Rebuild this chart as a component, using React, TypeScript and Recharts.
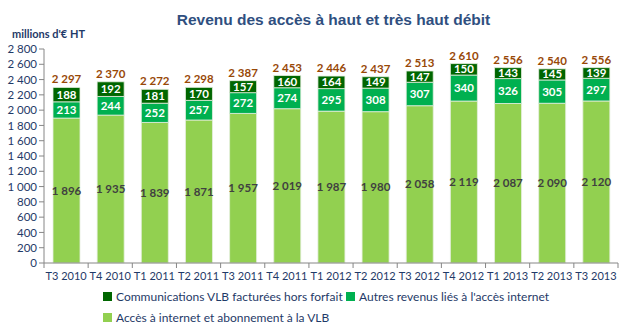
import React from 'react';
import { BarChart, Bar, XAxis, YAxis, LabelList } from 'recharts';

const quarters = ['T3 2010', 'T4 2010', 'T1 2011', 'T2 2011', 'T3 2011', 'T4 2011', 'T1 2012', 'T2 2012', 'T3 2012', 'T4 2012', 'T1 2013', 'T2 2013', 'T3 2013'];
const acces = [1896, 1935, 1839, 1871, 1957, 2019, 1987, 1980, 2058, 2119, 2087, 2090, 2120];
const autres = [213, 244, 252, 257, 272, 274, 295, 308, 307, 340, 326, 305, 297];
const communications = [188, 192, 181, 170, 157, 160, 164, 149, 147, 150, 143, 145, 139];
const totals = [2297, 2370, 2272, 2298, 2387, 2453, 2446, 2437, 2513, 2610, 2556, 2540, 2556];
const yTicks = [0, 200, 400, 600, 800, 1000, 1200, 1400, 1600, 1800, 2000, 2200, 2400, 2600, 2800];

const series = [
  { key: 'acces', name: 'Accès à internet et abonnement à la VLB', color: '#92D050', label: '#404040' },
  { key: 'autres', name: "Autres revenus liés à l'accès internet", color: '#00B050', label: '#ffffff' },
  { key: 'comm', name: 'Communications VLB facturées hors forfait', color: '#006600', label: '#ffffff' },
];

const data = quarters.map((q, i) => ({
  q,
  acces: acces[i],
  autres: autres[i],
  comm: communications[i],
  total: totals[i],
}));

const fmt = (v: number) => String(v).replace(/\B(?=(\d{3})+(?!\d))/g, ' ');

const FONT = 'Lato, sans-serif';
const TEXT = '#1F3A68';

const XTick = (props: any) => {
  const { x, y, payload, index, visibleTicksCount } = props;
  const n = visibleTicksCount || 13;
  const half = 574 / n / 2;
  const top = y - 8;
  return (
    <g>
      <line x1={x - half} x2={x - half} y1={top} y2={top + 5} stroke="#868686" />
      {index === n - 1 && <line x1={x + half} x2={x + half} y1={top} y2={top + 5} stroke="#868686" />}
      <text x={x} y={y + 9} textAnchor="middle" fill={TEXT} fontSize={11} fontFamily={FONT}>
        {payload.value}
      </text>
    </g>
  );
};

const makeSegLabel = (color: string) => (props: any) => {
  const { x, y, width, height, value } = props;
  return (
    <text x={x + width / 2} y={y + height / 2 + 4} textAnchor="middle" fill={color} fontSize={11.5} fontWeight="bold" fontFamily={FONT}>
      {fmt(value)}
    </text>
  );
};

const TotalLabel = (props: any) => {
  const { x, y, width, value } = props;
  return (
    <text x={x + width / 2} y={y - 4} textAnchor="middle" fill="#984807" fontSize={11.5} fontWeight="bold" fontFamily={FONT}>
      {fmt(value)}
    </text>
  );
};

const legendItems = [
  { s: series[2], left: 103, top: 287 },
  { s: series[1], left: 346, top: 287 },
  { s: series[0], left: 103, top: 308 },
];

export default function App() {
  return (
    <div style={{ position: 'relative', width: 627, height: 326, background: '#fff', fontFamily: FONT, overflow: 'hidden' }}>
      <style>{'body{margin:0}'}</style>
      <div style={{ position: 'absolute', top: 11, left: 0, width: 627, textAlign: 'center', paddingLeft: 40, boxSizing: 'border-box', fontFamily: '"Liberation Sans", Arial, sans-serif', fontWeight: 'bold', fontSize: 15.5, color: '#2F4F7F' }}>
        Revenu des accès à haut et très haut débit
      </div>
      <div style={{ position: 'absolute', top: 27, left: 12, fontWeight: 'bold', fontSize: 11, color: TEXT }}>
        millions d'€ HT
      </div>
      <BarChart width={627} height={326} data={data} margin={{ top: 49, right: 9, left: 0, bottom: 43 }} barSize={27}>
        <XAxis dataKey="q" height={20} axisLine={{ stroke: '#868686' }} tickLine={false} interval={0} tick={<XTick />} />
        <YAxis
          width={44}
          domain={[0, 2800]}
          ticks={yTicks}
          interval={0}
          axisLine={{ stroke: '#868686' }}
          tickLine={{ stroke: '#868686' }}
          tickSize={5}
          tickFormatter={fmt}
          tick={{ fill: TEXT, fontSize: 11.5, fontFamily: FONT }}
        />
        {series.map((s) => (
          <Bar key={s.key} dataKey={s.key} stackId="a" fill={s.color} stroke="#e6efe0" strokeWidth={0.8} isAnimationActive={false}>
            <LabelList dataKey={s.key} content={makeSegLabel(s.label)} />
            {s.key === 'comm' && <LabelList dataKey="total" content={<TotalLabel />} />}
          </Bar>
        ))}
      </BarChart>
      {legendItems.map(({ s, left, top }) => (
        <div key={s.key} style={{ position: 'absolute', left, top, height: 18, display: 'flex', alignItems: 'center', whiteSpace: 'nowrap', fontSize: 12, color: TEXT }}>
          <span style={{ display: 'inline-block', width: 9, height: 9, background: s.color, marginRight: 4 }} />
          {s.name}
        </div>
      ))}
    </div>
  );
}
